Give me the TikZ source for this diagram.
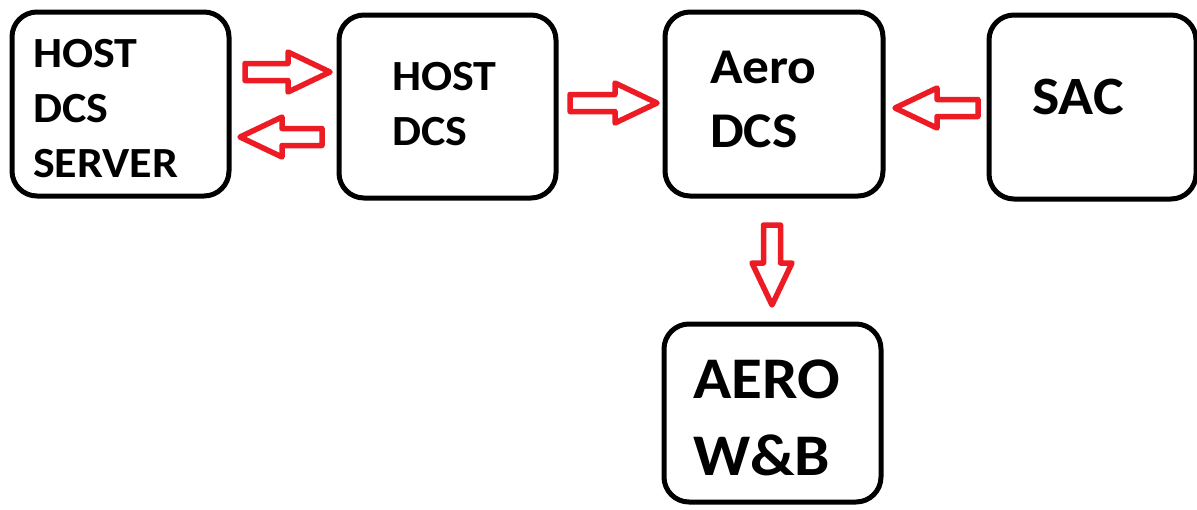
\documentclass[tikz,border=0pt]{standalone}
\usepackage{fontspec}
\newfontfamily\boxfont{Carlito}[FakeStretch=1.07]
\definecolor{flowred}{HTML}{ED1C24}
\begin{document}
\begin{tikzpicture}[x=1pt,y=-1pt,
  box/.style={draw=black, line width=5pt, rounded corners=25pt, fill=white,
    inner sep=0pt, minimum width=217pt, minimum height=184pt},
  label/.style={anchor=west, inner sep=0pt, align=left, text=black},
  arrowline/.style={draw=flowred, line width=5.5pt, line join=round, fill=white},
  pics/barrow/.style={code={
    \draw[arrowline] (0,-8.5) -- ({#1-42},-8.5) -- ({#1-42},-20) -- (#1,0)
      -- ({#1-42},20) -- ({#1-42},8.5) -- (0,8.5) -- cycle;
  }},
]
\useasboundingbox[fill=white] (0,0) rectangle (1197,509);

% boxes
\node[box] (server) at (120.5,104) {};
\node[box, minimum height=183pt] (host) at (447.5,106.5) {};
\node[box, minimum width=218pt] (aero) at (774,104) {};
\node[box, minimum width=207pt] (sac) at (1092.5,107) {};
\node[box, minimum height=178pt] (wb) at (772.5,413) {};

% box texts
\node[label, font=\boxfont\bfseries\fontsize{43}{55}\selectfont] (server-t) at (33,108.5) {HOST\\DCS\\SERVER};
\node[label, font=\boxfont\bfseries\fontsize{43}{55}\selectfont] (host-t) at (392,104) {HOST\\DCS};
\node[label, font=\boxfont\bfseries\fontsize{50}{64}\selectfont] (aero-t) at (710,99.5) {Aero\\DCS};
\node[label, font=\boxfont\bfseries\fontsize{54}{64}\selectfont] (sac-t) at (1032,97) {SAC};
\node[label, font=\boxfont\bfseries\fontsize{59}{77}\selectfont] (wb-t) at (693,417.5) {AERO\\W\&B};

% block arrows between the boxes
\pic (a1) at (245,72) {barrow=85};
\pic[rotate=180] (a2) at (322,137) {barrow=82};
\pic (a3) at (570,103) {barrow=87};
\pic[rotate=180] (a4) at (978,108) {barrow=83};
\pic[rotate=-90] (a5) at (772,225) {barrow=80};
\end{tikzpicture}
\end{document}
